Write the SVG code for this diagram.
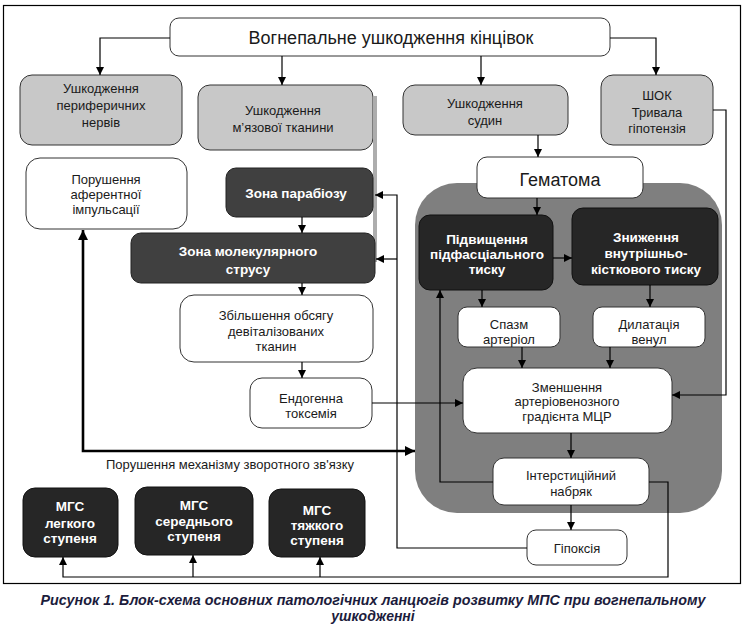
<svg xmlns="http://www.w3.org/2000/svg" width="746" height="629" viewBox="0 0 746 629">
<defs>
<style>
text{font-family:"Liberation Sans",Arial,sans-serif;font-size:13px;text-anchor:middle;fill:#1a1a1a}
.g{fill:#c8c8c8;stroke:#333;stroke-width:1}
.w{fill:#fff;stroke:#333;stroke-width:1}
.d{fill:#262626;stroke:#111;stroke-width:1}
.z{fill:#404040;stroke:#222;stroke-width:1}
.b{font-weight:bold;fill:#fff;font-size:13.5px}
.c{fill:none;stroke:#000;stroke-width:1.2}
.t{fill:none;stroke:#000;stroke-width:2.6}
.cap{font-weight:bold;font-style:italic;fill:#1c1c3c;font-size:14px}
</style>
<marker id="a" viewBox="0 0 10 10" refX="10" refY="5" markerWidth="8" markerHeight="8" markerUnits="userSpaceOnUse" orient="auto"><path d="M0,0L10,5L0,10z" fill="#000"/></marker>
<marker id="A" viewBox="0 0 10 10" refX="10" refY="5" markerWidth="10" markerHeight="10" markerUnits="userSpaceOnUse" orient="auto-start-reverse"><path d="M0,0L10,5L0,10z" fill="#000"/></marker>
</defs>
<rect x="3.5" y="5.5" width="737" height="578" fill="#fff" stroke="#000" stroke-width="1.2"/>
<rect id="hematoma-zone" x="415" y="183" width="307" height="330" rx="42" fill="#7f7f7f"/>

<g id="top"><rect class="w" x="170" y="18" width="440" height="38" rx="9"/><text x="391" y="44" style="font-size:18px">Вогнепальне ушкодження кінцівок</text></g>
<g id="nerves"><rect class="g" x="20" y="75" width="162" height="70" rx="12"/><text x="101" y="93">Ушкодження</text><text x="101" y="110">периферичних</text><text x="101" y="127">нервів</text></g>
<g id="muscle"><rect class="g" x="198" y="85" width="175" height="65" rx="12"/><text x="283" y="114.5">Ушкодження</text><text x="283" y="131.5">м’язової тканини</text></g>
<line x1="375" y1="96" x2="375" y2="262" stroke="#adadad" stroke-width="4"/>
<g id="vessels"><rect class="g" x="403" y="85" width="165" height="50" rx="12"/><text x="485" y="107.5">Ушкодження</text><text x="485" y="124.5">судин</text></g>
<g id="shock"><rect class="g" x="601" y="75" width="112" height="70" rx="12"/><text x="657" y="99.5">ШОК</text><text x="657" y="116.5">Тривала</text><text x="657" y="132.5">гіпотензія</text></g>
<g id="afferent"><rect class="w" x="26" y="158" width="161" height="71" rx="14"/><text x="106" y="184">Порушення</text><text x="106" y="199">аферентної</text><text x="106" y="214">імпульсації</text></g>
<g id="parabiosis"><rect class="z" x="226" y="168" width="147" height="49" rx="10"/><text class="b" x="296" y="197.5">Зона парабіозу</text></g>
<g id="molecular"><rect class="z" x="131" y="233" width="244" height="50" rx="10"/><text class="b" x="248" y="256">Зона молекулярного</text><text class="b" x="248" y="274">струсу</text></g>
<g id="devital"><rect class="w" x="180" y="295" width="193" height="67" rx="14"/><text x="276" y="319.5">Збільшення обсягу</text><text x="276" y="336">девіталізованих</text><text x="276" y="351">тканин</text></g>
<g id="toxemia"><rect class="w" x="250" y="378" width="122" height="50" rx="12"/><text x="311" y="402.5">Ендогенна</text><text x="311" y="417.5">токсемія</text></g>
<g id="hematoma"><rect class="w" x="477" y="157" width="166" height="41" rx="10"/><text x="560" y="185.5" style="font-size:18px">Гематома</text></g>
<g id="subfascial"><rect class="d" x="419" y="215" width="134" height="75" rx="11"/><text class="b" x="487" y="243.5">Підвищення</text><text class="b" x="487" y="258.5">підфасціального</text><text class="b" x="487" y="273.5">тиску</text></g>
<g id="intraosseous"><rect class="d" x="572" y="208" width="146" height="77" rx="11"/><text class="b" x="646" y="241.5">Зниження</text><text class="b" x="646" y="257.5">внутрішньо-</text><text class="b" x="646" y="273.5">кісткового тиску</text></g>
<g id="spasm"><rect class="w" x="458" y="307" width="102" height="40" rx="9"/><text x="509" y="329">Спазм</text><text x="509" y="343.5">артеріол</text></g>
<g id="dilation"><rect class="w" x="593" y="307" width="112" height="40" rx="9"/><text x="649" y="329">Дилатація</text><text x="649" y="343.5">венул</text></g>
<g id="gradient"><rect class="w" x="463" y="368" width="209" height="65" rx="14"/><text x="567" y="391.5">Зменшення</text><text x="567" y="406">артеріовенозного</text><text x="567" y="421">градієнта МЦР</text></g>
<g id="edema"><rect class="w" x="493" y="458" width="156" height="47" rx="11"/><text x="571" y="479.5">Інтерстиційний</text><text x="571" y="496">набряк</text></g>
<g id="hypoxia"><rect class="w" x="527" y="530" width="100" height="35" rx="9"/><text x="577" y="552.5">Гіпоксія</text></g>
<g id="mgs1"><rect class="d" x="23" y="488" width="95" height="69" rx="12"/><text class="b" x="70" y="511">МГС</text><text class="b" x="70" y="527.5">легкого</text><text class="b" x="70" y="542.5">ступеня</text></g>
<g id="mgs2"><rect class="d" x="135" y="487" width="118" height="68" rx="12"/><text class="b" x="194" y="509.5">МГС</text><text class="b" x="194" y="526">середнього</text><text class="b" x="194" y="541">ступеня</text></g>
<g id="mgs3"><rect class="d" x="269" y="489" width="96" height="68" rx="12"/><text class="b" x="317" y="514.5">МГС</text><text class="b" x="317" y="529.5">тяжкого</text><text class="b" x="317" y="544.5">ступеня</text></g>

<g id="connectors">
<path class="c" d="M170,38H100V75" marker-end="url(#a)"/>
<path class="c" d="M282,56V85" marker-end="url(#a)"/>
<path class="c" d="M481,56V85" marker-end="url(#a)"/>
<path class="c" d="M610,38H656V75" marker-end="url(#a)"/>
<path class="c" d="M713,110H726V395H672" marker-end="url(#a)"/>
<path class="c" d="M538,135V157" marker-end="url(#a)"/>
<path class="c" d="M537,198V215" marker-end="url(#a)"/>
<path class="c" d="M553,258H572" marker-end="url(#a)"/>
<path class="c" d="M482,290V307" marker-end="url(#a)"/>
<path class="c" d="M650,285V307" marker-end="url(#a)"/>
<path class="c" d="M522,347V368" marker-end="url(#a)"/>
<path class="c" d="M610,347V368" marker-end="url(#a)"/>
<path class="c" d="M571,433V458" marker-end="url(#a)"/>
<path class="c" d="M571,505V530" marker-end="url(#a)"/>
<path class="c" d="M493,482H440V290" marker-end="url(#a)"/>
<path class="c" d="M649,482H668V577H63V557" marker-end="url(#a)"/>
<path class="c" d="M193,577V555" marker-end="url(#a)"/>
<path class="c" d="M320,577V557" marker-end="url(#a)"/>
<path class="c" d="M527,548H397V195H375" marker-end="url(#a)"/>
<path class="c" d="M397,259H376" marker-end="url(#a)"/>
<path class="c" d="M372,403H463" marker-end="url(#a)"/>
<path class="c" d="M302,217V233" marker-end="url(#a)"/>
<path class="c" d="M302,283V295" marker-end="url(#a)"/>
<path class="c" d="M302,362V378" marker-end="url(#a)"/>
<path class="t" d="M83,230V451H415" marker-start="url(#A)" marker-end="url(#A)"/>
</g>
<text x="230" y="469">Порушення механізму зворотного зв'язку</text>
<text class="cap" x="373" y="605" textLength="665" lengthAdjust="spacingAndGlyphs">Рисунок 1. Блок-схема основних патологічних ланцюгів розвитку МПС при вогнепальному</text>
<text class="cap" x="373" y="621">ушкодженні</text>
</svg>
